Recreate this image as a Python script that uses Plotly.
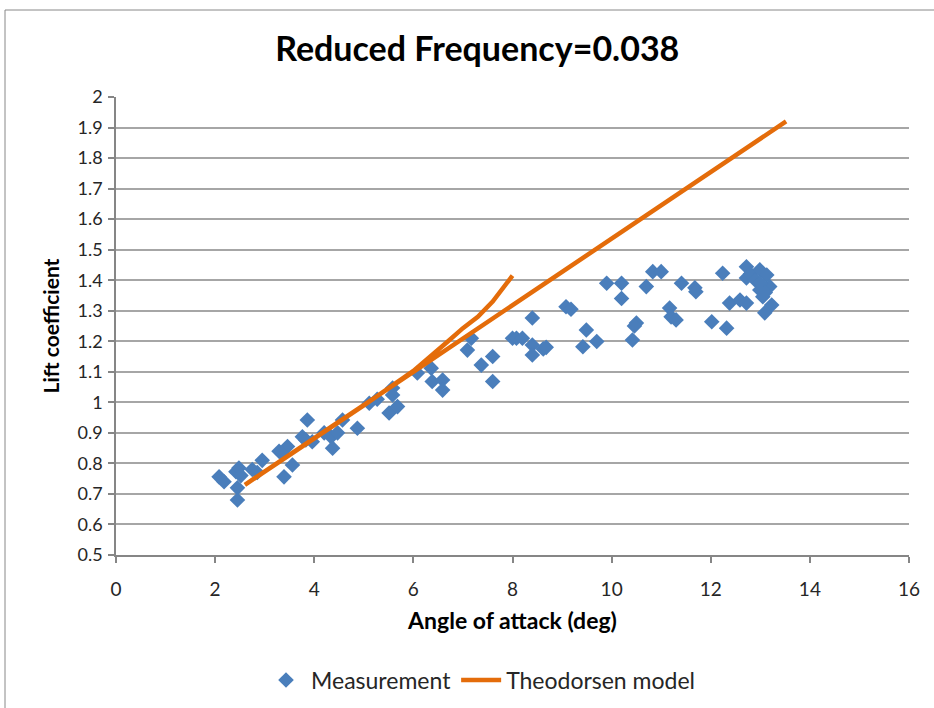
import plotly.graph_objects as go

# Measurement data (angle of attack [deg], lift coefficient)
meas_aoa = [2.08, 2.18, 2.42, 2.48, 2.45, 2.45, 2.52, 2.75, 2.95, 2.85, 3.29, 3.46, 3.36, 3.39, 3.56,
            3.76, 3.86, 3.83, 3.96, 4.20, 4.34, 4.37, 4.47, 4.57, 4.87, 5.11, 5.27, 5.51, 5.58, 5.58,
            5.68, 6.08, 6.36, 6.38, 6.59, 6.59, 7.09, 7.17, 7.37, 7.60, 7.60, 8.00, 8.08, 8.20, 8.40,
            8.40, 8.40, 8.62, 8.68, 9.08, 9.18, 9.49, 9.42, 9.70, 9.90, 10.20, 10.20, 10.50, 10.46,
            10.42, 10.70, 10.83, 11.00, 11.41, 11.68, 11.70, 11.17, 11.20, 11.30, 12.02, 12.32, 12.24,
            12.38, 12.59, 12.72, 12.72, 12.72, 12.80, 12.99, 13.13, 12.99, 13.19, 13.05, 13.23, 13.09,
            12.90, 13.00, 13.10]
meas_cl = [0.756, 0.740, 0.773, 0.785, 0.720, 0.680, 0.760, 0.780, 0.810, 0.770, 0.840, 0.855, 0.830,
           0.756, 0.795, 0.887, 0.942, 0.877, 0.871, 0.900, 0.887, 0.850, 0.900, 0.942, 0.915, 0.997,
           1.010, 0.965, 1.047, 1.024, 0.986, 1.096, 1.112, 1.068, 1.073, 1.040, 1.171, 1.210, 1.122,
           1.150, 1.068, 1.210, 1.210, 1.210, 1.276, 1.188, 1.155, 1.175, 1.180, 1.313, 1.305, 1.237,
           1.182, 1.199, 1.390, 1.390, 1.340, 1.260, 1.250, 1.204, 1.379, 1.428, 1.428, 1.390, 1.375,
           1.362, 1.309, 1.280, 1.270, 1.264, 1.243, 1.423, 1.325, 1.335, 1.325, 1.444, 1.407, 1.420,
           1.434, 1.417, 1.368, 1.379, 1.346, 1.319, 1.293, 1.400, 1.390, 1.360]

# Theodorsen model (hysteresis loop)
theo_aoa = [8.00, 7.80, 7.60, 7.30, 7.00, 6.70, 6.30, 6.00, 5.00, 4.00, 3.00, 2.60,
            4.00, 6.00, 8.00, 10.00, 12.00, 13.52]
theo_cl = [1.415, 1.375, 1.330, 1.280, 1.243, 1.200, 1.145, 1.103, 0.990, 0.883, 0.772, 0.730,
           0.883, 1.100, 1.319, 1.537, 1.755, 1.920]

title_text = "Reduced Frequency=0.038"
x_title = "Angle of attack (deg)"
y_title = "Lift coefficient"

FONT = "Lato"
TXT = "#262626"
GRID = "#A6A6A6"
AXIS = "#868686"

fig = go.Figure()
fig.add_trace(go.Scatter(
    x=meas_aoa, y=meas_cl, mode="markers", name="Measurement",
    marker=dict(symbol="diamond", size=12, color="#4A7EBB", line=dict(width=0)),
))
fig.add_trace(go.Scatter(
    x=theo_aoa, y=theo_cl, mode="lines", name="Theodorsen model",
    line=dict(color="#E46C0A", width=4.5),
))

fig.update_layout(
    width=934, height=708,
    paper_bgcolor="white", plot_bgcolor="white",
    margin=dict(l=116, r=25, t=97, b=153, autoexpand=False),
    title=dict(text=f"<b>{title_text}</b>", x=0.511, xanchor="center", y=0.93, yanchor="middle",
               font=dict(family=FONT, size=34, color="black")),
    font=dict(family=FONT, color=TXT),
    showlegend=True,
    legend=dict(orientation="h", x=(481 - 116) / 793, xanchor="center",
                yref="container", y=(708 - 680) / 708, yanchor="middle",
                font=dict(family=FONT, size=23, color=TXT), itemwidth=40,
                traceorder="normal"),
    shapes=[dict(type="rect", xref="paper", yref="paper",
                 x0=-111/793, x1=1.2, y0=-2, y1=(555 - 10) / 458,
                 line=dict(color="#888888", width=1), fillcolor="rgba(0,0,0,0)", layer="below")],
)
fig.update_xaxes(
    range=[0, 16], dtick=2, tick0=0, showgrid=False, zeroline=False, automargin=False,
    showline=True, linecolor=AXIS, linewidth=1.5,
    ticks="outside", ticklen=6, tickcolor=AXIS, tickwidth=1.5, ticklabelstandoff=10,
    tickfont=dict(family=FONT, size=19, color=TXT),
    title=dict(text=f"<b>{x_title}</b>", font=dict(family=FONT, size=23, color="black"), standoff=14),
)
fig.update_yaxes(
    range=[0.5, 2.0], dtick=0.1, tick0=0.5, showgrid=True, gridcolor=GRID, gridwidth=1.5,
    zeroline=False, showline=True, linecolor=AXIS, linewidth=1.5, automargin=False,
    ticks="outside", ticklen=6, tickcolor=AXIS, tickwidth=1.5, ticklabelstandoff=2,
    tickfont=dict(family=FONT, size=18, color=TXT),
    title=dict(text=f"<b>{y_title}</b>", font=dict(family=FONT, size=21, color="black"), standoff=12),
)

fig.write_html("out.html")
